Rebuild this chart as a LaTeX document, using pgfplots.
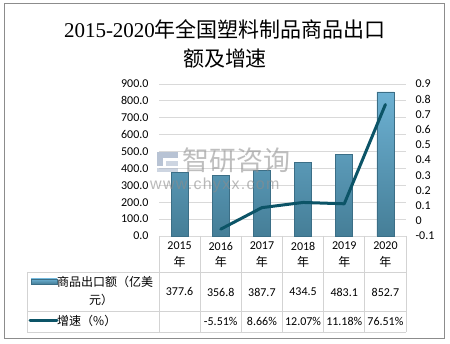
\documentclass[border=0pt]{standalone}
\usepackage{pgfplots}
\pgfplotsset{compat=1.18}
\usepackage{fontspec}
\setmainfont{Carlito}
\newfontfamily\cjk{Noto Sans CJK SC}
\newfontfamily\serif{Liberation Serif}
\newfontfamily\wmfont{Liberation Sans}[LetterSpace=8]
\definecolor{barTop}{HTML}{6DB1D3}
\definecolor{barBot}{HTML}{457E97}
\definecolor{barEdge}{HTML}{3B6E86}
\definecolor{lineC}{HTML}{0C5467}
\definecolor{gridC}{HTML}{D9D9D9}
\definecolor{tabC}{HTML}{D3D3D3}
\definecolor{frameC}{HTML}{8C8C8C}
\definecolor{wmC}{HTML}{8A9BB8}
\begin{document}
\begin{tikzpicture}[x=1pt,y=1pt]
\path[use as bounding box, fill=white] (0pt,0pt) rectangle (450pt,344pt);
\draw[frameC, line width=1.2pt] (4.5pt,5.5pt) rectangle (444.5pt,340.5pt);
% title
\node[align=center, font=\fontsize{21}{29}\selectfont] at (225pt,300.5pt)
  {{\serif 2015-2020}{\cjk 年全国塑料制品商品出口}\\{\cjk 额及增速}};

\begin{axis}[at={(159pt,108pt)}, anchor=south west, scale only axis,
  width=247pt, height=152pt,
  xmin=-0.5, xmax=5.5, ymin=0, ymax=900,
  ytick={0,100,...,900}, xtick=\empty,
  axis line style={draw=none}, major tick length=0pt,
  ymajorgrids, grid style={gridC, line width=0.8pt},
  /pgf/number format/assume math mode=true,
  yticklabel style={font=\fontsize{12}{14}\selectfont, xshift=-7pt,
    /pgf/number format/fixed, /pgf/number format/fixed zerofill,
    /pgf/number format/precision=1},
  clip=false]
\addplot[ybar, bar width=17pt, bar shift=0pt, draw=barEdge, line width=0.6pt,
  top color=barTop, bottom color=barBot]
  coordinates {(0,377.6) (1,356.8) (2,387.7) (3,434.5) (4,483.1) (5,852.7)};
\end{axis}

\begin{axis}[at={(159pt,108pt)}, anchor=south west, scale only axis,
  width=247pt, height=152pt,
  xmin=-0.5, xmax=5.5, ymin=-0.1, ymax=0.9,
  ytick={-0.1,0,0.1,0.2,0.3,0.4,0.5,0.6,0.7,0.8,0.9}, xtick=\empty,
  yticklabel pos=right,
  axis line style={draw=none}, major tick length=0pt,
  /pgf/number format/assume math mode=true,
  yticklabel style={font=\fontsize{12}{14}\selectfont, xshift=6pt},
  clip=false]
\addplot[color=lineC, line width=3pt, line join=round, line cap=round]
  coordinates {(1,-0.0551) (2,0.0866) (3,0.1207) (4,0.1118) (5,0.7651)};
\end{axis}

% watermark
\begin{scope}[opacity=0.6]
\fill[wmC] (157pt,186pt) rectangle (178pt,192pt);
\fill[wmC] (157pt,178pt) rectangle (163pt,186pt);
\fill[wmC!70] (166pt,178pt) rectangle (178pt,183pt);
\fill[wmC!70] (157pt,172pt) rectangle (178pt,176pt);
\node[anchor=west, text=gray!85, font=\cjk\fontsize{27}{27}\selectfont, inner sep=0pt] at (182pt,184pt) {智研咨询};
\node[anchor=west, text=gray!90, font=\wmfont\fontsize{16}{16}\selectfont, inner sep=0pt] at (150pt,159pt) {www.chyxx.com};
\end{scope}

% data table
\begin{scope}[tabC, line width=0.8pt]
\draw (27pt,72pt) -- (406pt,72pt);
\draw (27pt,33pt) -- (406pt,33pt);
\draw (27pt,12pt) -- (406pt,12pt);
\draw (27pt,72pt) -- (27pt,12pt);
\foreach \k in {0,...,6} {
  \pgfmathsetmacro{\xx}{159+41.1667*\k}
  \draw (\xx pt,108pt) -- (\xx pt,12pt);
}
\end{scope}

\foreach \yr/\a/\b [count=\i from 0] in {2015/377.6/{},2016/356.8/-5.51\%,2017/387.7/8.66\%,2018/434.5/12.07\%,2019/483.1/11.18\%,2020/852.7/76.51\%} {
  \pgfmathsetmacro{\xc}{159+41.1667*(\i+0.5)}
  \node[font=\fontsize{12}{14}\selectfont] at (\xc pt,98pt) {\yr};
  \node[font=\cjk\fontsize{12}{14}\selectfont] at (\xc pt,82pt) {年};
  \node[font=\fontsize{12}{14}\selectfont] at (\xc pt,52pt) {\a};
  \node[font=\fontsize{12}{14}\selectfont] at (\xc pt,23pt) {\b};
}

% legend keys in the table
\shade[top color=barTop, bottom color=barBot, draw=barEdge, line width=0.5pt] (31pt,60pt) rectangle (57pt,65pt);
\node[anchor=west, inner sep=0pt, font=\cjk\fontsize{12}{14}\selectfont] at (57pt,62.5pt) {商品出口额（亿美};
\node[inner sep=0pt, font=\cjk\fontsize{12}{14}\selectfont] at (101pt,44pt) {元）};
\draw[lineC, line width=3pt, line cap=round] (30pt,23pt) -- (57pt,23pt);
\node[anchor=west, inner sep=0pt, font=\cjk\fontsize{12}{14}\selectfont] at (57pt,23pt) {增速（\%）};
\end{tikzpicture}
\end{document}
